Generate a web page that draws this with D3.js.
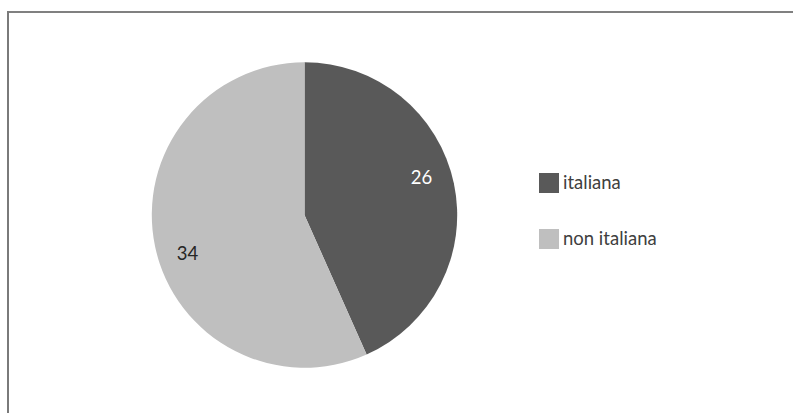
<!DOCTYPE html>
<html>
<head>
<meta charset="utf-8">
<script src="https://cdn.jsdelivr.net/npm/d3@7/dist/d3.min.js"></script>
<style>
  html, body { margin: 0; padding: 0; background: #fff; }
  svg { display: block; }
  text { font-family: Lato, "Open Sans", sans-serif; }
</style>
</head>
<body>
<svg id="chart" width="793" height="413"></svg>
<script>
// Nationality breakdown
const categories = ["italiana", "non italiana"];
const values = [26, 34];
const colors = ["#595959", "#bfbfbf"];
const labelColors = ["#ffffff", "#262626"];

const width = 793, height = 413;
const cx = 304.5, cy = 215, radius = 152.7;
const fontSize = 18.5;

const svg = d3.select("#chart");

// chart frame (top and left edges visible)
svg.append("line").attr("x1", 8).attr("x2", width).attr("y1", 12).attr("y2", 12)
  .attr("stroke", "#808080").attr("stroke-width", 2);
svg.append("line").attr("x1", 8).attr("x2", 8).attr("y1", 11).attr("y2", height)
  .attr("stroke", "#7a7a7a").attr("stroke-width", 2);

const pie = d3.pie().sort(null).value(d => d)(values);
const arc = d3.arc().innerRadius(0).outerRadius(radius);

const g = svg.append("g").attr("transform", `translate(${cx},${cy})`);

g.selectAll("path.slice")
  .data(pie)
  .join("path")
  .attr("class", "slice")
  .attr("d", arc)
  .attr("fill", (d, i) => colors[i]);

// data labels, placed near the slice centre and nudged counter-clockwise
const labelR = 123, labelShift = -6 * Math.PI / 180;
g.selectAll("text.value")
  .data(pie)
  .join("text")
  .attr("class", "value")
  .attr("x", d => labelR * Math.sin((d.startAngle + d.endAngle) / 2 + labelShift))
  .attr("y", d => -labelR * Math.cos((d.startAngle + d.endAngle) / 2 + labelShift))
  .attr("dy", "0.36em")
  .attr("text-anchor", "middle")
  .attr("font-size", fontSize)
  .attr("fill", (d, i) => labelColors[i])
  .text(d => d.data);

// legend
const legend = svg.append("g").attr("transform", "translate(539,173)");
const item = legend.selectAll("g.item")
  .data(categories)
  .join("g")
  .attr("class", "item")
  .attr("transform", (d, i) => `translate(0,${i * 56})`);
item.append("rect").attr("width", 20).attr("height", 20)
  .attr("fill", (d, i) => colors[i]);
item.append("text").attr("x", 24).attr("y", 15.5)
  .attr("font-size", fontSize).attr("fill", "#404040")
  .text(d => d);
</script>
</body>
</html>
